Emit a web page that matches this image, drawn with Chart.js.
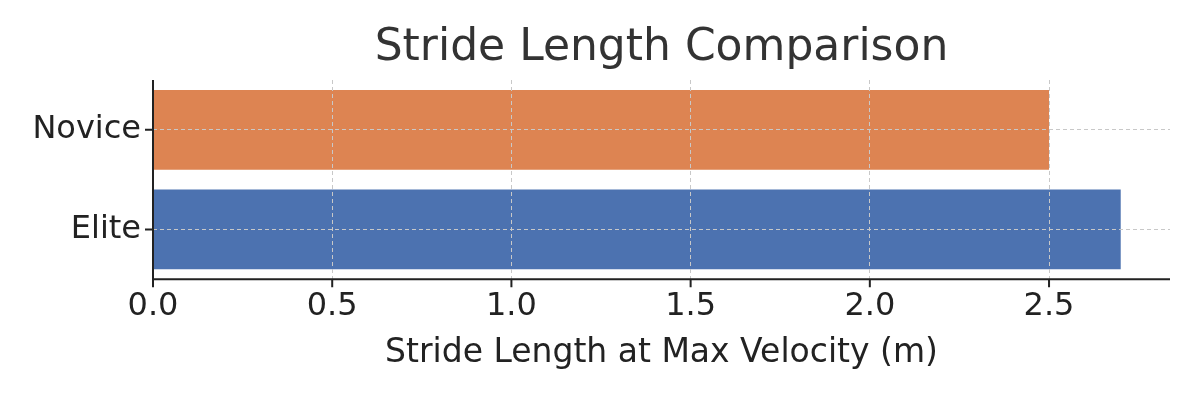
<!DOCTYPE html>
<html>
<head>
<meta charset="utf-8">
<script src="https://cdn.jsdelivr.net/npm/chart.js@4/dist/chart.umd.min.js"></script>
<style>
  html, body { margin: 0; padding: 0; background: #fff; }
  #wrap { width: 1200px; height: 400px; }
</style>
</head>
<body>
<div id="wrap"><canvas id="strideChart"></canvas></div>
<script>
// datos del gráfico
const categories = ["Novice", "Elite"];
const strideValues = [2.5, 2.7];
const barColors = ["#DD8452", "#4C72B0"];
const xTicks = [0.0, 0.5, 1.0, 1.5, 2.0, 2.5];
const chartTitle = "Stride Length Comparison";

const font = "'DejaVu Sans', sans-serif";

// ejes, marcas y título centrado sobre el área del gráfico
const axesPlugin = {
  id: "axesPlugin",
  afterDraw(chart) {
    const { ctx, chartArea: a, scales } = chart;
    ctx.save();
    ctx.strokeStyle = "#222";
    ctx.lineWidth = 2;
    ctx.beginPath();
    ctx.moveTo(a.left, a.top);
    ctx.lineTo(a.left, a.bottom);
    ctx.lineTo(a.right, a.bottom);
    xTicks.forEach(v => {
      const x = scales.x.getPixelForValue(v);
      ctx.moveTo(x, a.bottom);
      ctx.lineTo(x, a.bottom + 8);
    });
    categories.forEach((c, i) => {
      const y = scales.y.getPixelForValue(i);
      ctx.moveTo(a.left, y);
      ctx.lineTo(a.left - 8, y);
    });
    ctx.stroke();
    ctx.fillStyle = "#333";
    ctx.font = "44px " + font;
    ctx.textAlign = "center";
    ctx.textBaseline = "middle";
    ctx.fillText(chartTitle, (a.left + a.right) / 2, 49);
    ctx.restore();
  }
};

new Chart(document.getElementById("strideChart"), {
  type: "bar",
  data: {
    labels: categories,
    datasets: [{
      data: strideValues,
      backgroundColor: barColors,
      barPercentage: 0.8,
      categoryPercentage: 1.0
    }]
  },
  plugins: [axesPlugin],
  options: {
    indexAxis: "y",
    responsive: true,
    maintainAspectRatio: false,
    animation: false,
    layout: { padding: { left: 0, right: 30, top: 80, bottom: 28 } },
    plugins: {
      legend: { display: false },
      tooltip: { enabled: false },
      title: { display: false }
    },
    scales: {
      x: {
        min: 0,
        max: 2.8375,
        afterBuildTicks: (scale) => { scale.ticks = xTicks.map(v => ({ value: v })); },
        ticks: {
          color: "#222",
          font: { family: font, size: 32 },
          callback: (v) => Number(v).toFixed(1),
          maxRotation: 0,
          padding: 8
        },
        grid: { color: "#c8c8c8", z: 1, drawTicks: false },
        border: { display: false, dash: [4, 3] },
        title: {
          display: true,
          text: "Stride Length at Max Velocity (m)",
          color: "#222",
          font: { family: font, size: 33, lineHeight: 1.1 },
          padding: { top: 2, bottom: 0 }
        }
      },
      y: {
        afterFit: (scale) => { scale.width = 153; },
        ticks: { color: "#222", font: { family: font, size: 32 }, padding: 12 },
        grid: { offset: false, color: "#c8c8c8", z: 1, drawTicks: false },
        border: { display: false, dash: [4, 3] }
      }
    }
  }
});
</script>
</body>
</html>
